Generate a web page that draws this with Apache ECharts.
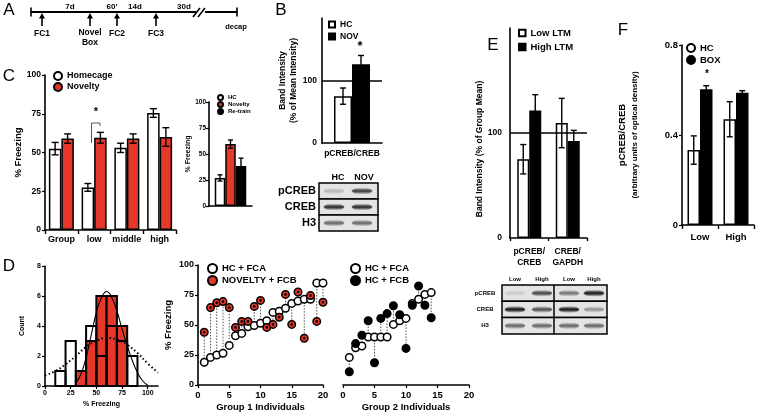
<!DOCTYPE html>
<html>
<head>
<meta charset="utf-8">
<title>pCREB / freezing figure</title>
<script src="https://cdn.jsdelivr.net/npm/echarts@6/dist/echarts.min.js"></script>
<style>body{margin:0;background:#fff}</style>
</head>
<body>
<div id="main" style="width:760px;height:413px;"></div>
<script>
// ---------- data ----------
// A: protocol timeline (schematic)
const timelineMarks = ['FC1', 'Novel\nBox', 'FC2', 'FC3'];
const timelineGaps = ['7d', "60'", '14d', '30d'];

// B: band intensity, HC vs NOV
const bCats = ['pCREB/CREB'];
const bHC = [75], bHCErr = [13];
const bNOV = [126], bNOVErr = [14];

// C: % freezing by group
const cCats = ['Group', 'low', 'middle', 'high'];
const cHome = [52.5, 27.5, 53, 75.5];
const cHomeErr = [4, 2.5, 3, 2.8];
const cNov = [59, 59.5, 59, 60];
const cNovErr = [3, 3.5, 3, 6];
// C inset
const ciHC = [27], ciHCErr = [3];
const ciNov = [59.5], ciNovErr = [4];
const ciRetrain = [38.5], ciRetrainErr = [7.5];

// D: histogram of % freezing
const binEdges = [10, 20, 30, 40, 50, 60, 70, 80, 90];
const histHC = [1, 3, 0, 4, 2, 4, 3, 2];
const histNov = [0, 0, 1, 3, 6, 6, 4, 0];
const fitHC = [[0, 0.7], [10, 1.0], [20, 1.45], [30, 2.0], [40, 2.6], [50, 3.0], [60, 3.2], [70, 3.1], [80, 2.75], [90, 2.2], [100, 1.5], [110, 0.9]];
const fitNov = [[30, 0.2], [35, 0.8], [40, 1.9], [45, 3.4], [50, 4.9], [55, 5.9], [60, 6.3], [65, 5.9], [70, 5.0], [75, 3.8], [80, 2.7], [85, 1.7], [90, 0.9], [95, 0.35], [100, 0.05]];

// D: individuals, group 1
const g1HC = [19, 23, 25, 26.5, 33, 41, 43, 48.5, 49.5, 51.5, 53.5, 60.5, 61.5, 64, 68, 70, 71.5, 71.5, 85, 85];
const g1Nov = [44, 64.5, 68.5, 69.5, 64.5, 48, 53, 53, 65.5, 70.5, 48, 50.5, 56.5, 75.5, 50.5, 77.5, 39, 74.5, 53, 69];
// D: individuals, group 2
const g2FCA = [23, 31, 32.5, 40, 40, 40, 40, 50.5, 53.5, 55.5, 68, 71.5, 75.5, 77];
const g2FCB = [11, 34.5, 41.5, 53.5, 18.5, 55.5, 59.5, 66, 58.5, 30.5, 66.5, 82.5, 66.5, 56];

// E: band intensity, low vs high LTM
const eCats = ['pCREB/\nCREB', 'CREB/\nGAPDH'];
const eLow = [75, 109.5], eLowErr = [14, 23.5];
const eHigh = [121.5, 92.5], eHighErr = [15, 10];

// F: pCREB/CREB optical density
const fCats = ['Low', 'High'];
const fHC = [0.333, 0.47], fHCErr = [0.063, 0.078];
const fBOX = [0.603, 0.588], fBOXErr = [0.016, 0.009];

// western blot band darkness (0..1), rows x lanes
const blotBRows = ['pCREB', 'CREB', 'H3'];
const blotBLanes = ['HC', 'NOV'];
const blotBDark = [[0.2, 0.75], [0.85, 0.85], [0.55, 0.55]];
const blotELanes = ['Low', 'High', 'Low', 'High'];
const blotEDark = [[0.12, 0.7, 0.5, 0.95], [0.95, 0.65, 0.95, 0.35], [0.55, 0.55, 0.55, 0.55]];

// ---------- helpers ----------
const FONT = '"Liberation Sans", Arial, Helvetica, sans-serif';
const RED = '#e5382a';
const txt = (size) => ({ color: '#000', fontFamily: FONT, fontWeight: 'bold', fontSize: size });

function valAxis(gi, min, max, interval, size, extra) {
    return Object.assign({
        type: 'value', gridIndex: gi, min: min, max: max, interval: interval,
        axisLine: { show: true, lineStyle: { color: '#000', width: 1.6 } },
        axisTick: { show: true, length: 3, lineStyle: { color: '#000', width: 1.2 } },
        axisLabel: Object.assign({ margin: 4 }, txt(size)),
        splitLine: { show: false }
    }, extra || {});
}
// category axis; label tweaks go in labelExtra so interval 0 is kept
function catAxis(gi, cats, size, labelExtra, ticks) {
    return {
        type: 'category', gridIndex: gi, data: cats,
        axisLine: { show: true, lineStyle: { color: '#000', width: 1.6 } },
        axisTick: ticks ? { show: true, interval: 0, length: ticks, lineStyle: { color: '#000', width: 1.4 } } : { show: false },
        axisLabel: Object.assign({ margin: 6, interval: 0, hideOverlap: false }, txt(size), labelExtra || {}),
        splitLine: { show: false }
    };
}
function bars(name, gi, vals, fill, width, extra) {
    return Object.assign({
        name: name, type: 'bar', xAxisIndex: gi, yAxisIndex: gi, data: vals,
        barWidth: width, barGap: '0%',
        itemStyle: { color: fill, borderColor: '#000', borderWidth: 1.5 },
        z: 2
    }, extra || {});
}
function errorBars(gi, means, errs, offset, cap) {
    return {
        type: 'custom', xAxisIndex: gi, yAxisIndex: gi, z: 5, silent: true,
        data: means.map((m, i) => [i, m - errs[i], m + errs[i]]),
        encode: { x: 0, y: [1, 2] },
        renderItem: (params, api) => {
            const lo = api.coord([api.value(0), api.value(1)]);
            const hi = api.coord([api.value(0), api.value(2)]);
            const x = lo[0] + offset;
            const st = { stroke: '#000', lineWidth: 1.4 };
            return {
                type: 'group', children: [
                    { type: 'line', shape: { x1: x, y1: lo[1], x2: x, y2: hi[1] }, style: st },
                    { type: 'line', shape: { x1: x - cap, y1: lo[1], x2: x + cap, y2: lo[1] }, style: st },
                    { type: 'line', shape: { x1: x - cap, y1: hi[1], x2: x + cap, y2: hi[1] }, style: st }
                ]
            };
        }
    };
}
function refLine(v) {
    return {
        silent: true, symbol: 'none', label: { show: false },
        lineStyle: { color: '#000', width: 1.6, type: 'solid' },
        data: [{ yAxis: v }]
    };
}
function histSeries(counts, fill, z) {
    return {
        type: 'custom', xAxisIndex: 3, yAxisIndex: 3, z: z, silent: true,
        data: counts.map((c, i) => [binEdges[i], binEdges[i + 1], c]),
        encode: { x: [0, 1], y: 2 },
        renderItem: (params, api) => {
            if (!api.value(2)) return null;
            const a = api.coord([api.value(0), api.value(2)]);
            const b = api.coord([api.value(1), 0]);
            return {
                type: 'rect', shape: { x: a[0], y: a[1], width: b[0] - a[0], height: b[1] - a[1] },
                style: { fill: fill, stroke: '#000', lineWidth: 2 }
            };
        }
    };
}
function connectors(gi, a, b) {
    return {
        type: 'custom', xAxisIndex: gi, yAxisIndex: gi, z: 1, silent: true,
        data: a.map((v, i) => [i + 1, v, b[i]]),
        encode: { x: 0, y: [1, 2] },
        renderItem: (params, api) => {
            const s = api.coord([api.value(0), api.value(1)]);
            const e = api.coord([api.value(0), api.value(2)]);
            return {
                type: 'line', shape: { x1: s[0], y1: s[1], x2: e[0], y2: e[1] },
                style: { stroke: '#555', lineWidth: 1, lineDash: [1.5, 1.5] }
            };
        }
    };
}
const dotCircle = 'path://M0,-10A10,10,0,1,1,0,10A10,10,0,1,1,0,-10ZM0,-1.6A1.6,1.6,0,1,1,0,1.6A1.6,1.6,0,1,1,0,-1.6Z';
function dots(name, gi, vals, fill, symbol, z) {
    return {
        name: name, type: 'scatter', xAxisIndex: gi, yAxisIndex: gi, z: z,
        data: vals.map((v, i) => [i + 1, v]),
        symbol: symbol, symbolSize: 7.5,
        itemStyle: { color: fill, borderColor: '#000', borderWidth: 1.5, opacity: 1 }
    };
}

// ---------- graphic pieces ----------
function gText(text, x, y, size, opts) {
    const o = opts || {};
    return {
        type: 'text', x: x, y: y, rotation: o.rotation || 0, silent: true,
        style: {
            text: text, fill: '#000', fontFamily: FONT, fontSize: size,
            fontWeight: o.weight || 'bold',
            align: o.align || 'center', textAlign: o.align || 'center',
            verticalAlign: 'middle', textVerticalAlign: 'middle',
            lineHeight: o.lineHeight || size * 1.15
        }
    };
}
function gLine(x1, y1, x2, y2, w) {
    return { type: 'line', silent: true, shape: { x1: x1, y1: y1, x2: x2, y2: y2 }, style: { stroke: '#000', lineWidth: w || 1.5 } };
}
function band(cx, cy, w, h, a) {
    return {
        type: 'ellipse', silent: true, shape: { cx: cx, cy: cy, rx: w / 2, ry: h / 2 },
        style: {
            fill: {
                type: 'linear', x: 0, y: 0, x2: 0, y2: 1, colorStops: [
                    { offset: 0, color: 'rgba(20,20,20,0)' },
                    { offset: 0.5, color: 'rgba(20,20,20,' + a + ')' },
                    { offset: 1, color: 'rgba(20,20,20,0)' }]
            },
            shadowBlur: 3, shadowColor: 'rgba(0,0,0,' + (a * 0.5) + ')'
        }
    };
}
function blot(x0, x1, yTop, rowH, laneX, dark, bandW, bandH, dividers) {
    const out = [];
    dark.forEach((row, r) => {
        const y = yTop + r * rowH;
        out.push({ type: 'rect', silent: true, shape: { x: x0, y: y, width: x1 - x0, height: rowH }, style: { fill: '#e4e4e4', stroke: null } });
        row.forEach((d, l) => out.push(band(laneX[l], y + rowH / 2, bandW, bandH, d)));
        out.push({ type: 'rect', silent: true, shape: { x: x0, y: y, width: x1 - x0, height: rowH }, style: { fill: null, stroke: '#000', lineWidth: 1.5 } });
    });
    (dividers || []).forEach(dx => out.push(gLine(dx, yTop, dx, yTop + rowH * dark.length, 1.5)));
    return out;
}

const graphics = [];
// panel letters
[['A', 9, 10], ['B', 281, 10], ['C', 9, 76], ['D', 9, 266], ['E', 493, 45], ['F', 623, 30]].forEach(p =>
    graphics.push(gText(p[0], p[1], p[2], 17, { weight: 'normal' })));

// A: timeline
const tlY = 12;
const tlMarkX = [42, 90, 117, 156];
const tlGapX = [70, 112, 135, 184];
graphics.push(gLine(31, tlY, 196, tlY, 2), gLine(205, tlY, 237, tlY, 2));
graphics.push(gLine(31, tlY - 4.5, 31, tlY + 4.5, 1.6), gLine(237, tlY - 4.5, 237, tlY + 4.5, 1.6));
graphics.push(gLine(193, tlY + 5, 200, tlY - 4, 1.6), gLine(198, tlY + 5, 205, tlY - 4, 1.6));
timelineMarks.forEach((m, i) => {
    const x = tlMarkX[i];
    graphics.push(gLine(x, 26, x, 17, 1.6));
    graphics.push({ type: 'polygon', silent: true, shape: { points: [[x, 13], [x - 3, 18.5], [x + 3, 18.5]] }, style: { fill: '#000' } });
    graphics.push(gText(m, x, m.indexOf('\n') >= 0 ? 38 : 33.5, 8.5, { lineHeight: 10 }));
});
timelineGaps.forEach((g, i) => graphics.push(gText(g, tlGapX[i], 6.5, 8)));
graphics.push(gText('decap', 236, 26.5, 7.5));

// asterisks and bracket
graphics.push(gText('*', 360, 46, 13), gText('*', 96, 112, 11), gText('*', 707, 74, 10));
graphics.push({ type: 'polyline', silent: true, shape: { points: [[91.5, 143], [91.5, 123], [100, 123], [100, 126]] }, style: { stroke: '#555', lineWidth: 1, fill: null } });

// B: blot
graphics.push(...blot(319, 378, 183, 16, [334, 362], blotBDark, 20, 7, []));
blotBLanes.forEach((l, i) => graphics.push(gText(l, [338, 364][i], 178, 9)));
blotBRows.forEach((r, i) => graphics.push(gText(r, 316, 191 + i * 16, 11, { align: 'right' })));

// E: blot
graphics.push(...blot(502, 607, 285, 16.3, [515, 542, 569, 594], blotEDark, 20, 7, [554]));
blotELanes.forEach((l, i) => graphics.push(gText(l, [515, 542, 569, 594][i], 279, 6)));
blotBRows.forEach((r, i) => graphics.push(gText(r, 485, 293 + i * 16.3, 6)));

// ---------- chart ----------
let myChart = echarts.init(document.getElementById('main'), null, { renderer: 'canvas' });

const legendBase = {
    orient: 'vertical', itemGap: 3, selectedMode: false, padding: 0,
    textStyle: txt(9)
};

let option = {
    animation: false,
    backgroundColor: '#fff',
    grid: [
        { left: 322, top: 18, width: 60, height: 125 },   // 0 B
        { left: 45, top: 75, width: 131, height: 155 },   // 1 C
        { left: 209, top: 102, width: 43, height: 104 },  // 2 C inset
        { left: 45, top: 266, width: 113, height: 120 },  // 3 D hist
        { left: 198, top: 265, width: 125, height: 120 }, // 4 D group 1
        { left: 343, top: 265, width: 126, height: 120 }, // 5 D group 2
        { left: 510, top: 28, width: 77, height: 210 },   // 6 E
        { left: 682, top: 45, width: 72, height: 180 }    // 7 F
    ].map(g => Object.assign({ outerBoundsMode: 'none', containLabel: false }, g)),
    xAxis: [
        catAxis(0, bCats, 8.5, { margin: 6 }),
        catAxis(1, cCats, 9, { margin: 5 }, 4),
        catAxis(2, [''], 7, { show: false }),
        valAxis(3, 0, 110, 25, 7, {
            axisLabel: Object.assign({ margin: 4, showMaxLabel: false, formatter: v => (v > 100 ? '' : v) }, txt(7)),
            name: '% Freezing', nameLocation: 'middle', nameGap: 15, nameTextStyle: txt(7)
        }),
        valAxis(4, 0, 20, 5, 9.5, { name: 'Group 1 Individuals', nameLocation: 'middle', nameGap: 17, nameTextStyle: txt(9.5), axisLabel: Object.assign({ margin: 5 }, txt(9.5)) }),
        valAxis(5, 0, 20, 5, 9.5, { name: 'Group 2 Individuals', nameLocation: 'middle', nameGap: 17, nameTextStyle: txt(9.5), axisLabel: Object.assign({ margin: 5 }, txt(9.5)) }),
        catAxis(6, eCats, 8.5, { margin: 8, lineHeight: 11 }, 3),
        catAxis(7, fCats, 9.5, { margin: 7 }, 4)
    ],
    yAxis: [
        valAxis(0, 0, 200, 100, 8.5, {
            axisTick: { show: false },
            axisLabel: Object.assign({ margin: 5, formatter: v => (v > 100 ? '' : v) }, txt(8.5)),
            name: 'Band Intensity\n(% of Mean Intensity)', nameLocation: 'middle', nameGap: 22,
            nameTextStyle: Object.assign({ lineHeight: 11 }, txt(8.5))
        }),
        valAxis(1, 0, 100, 25, 8.5, { name: '% Freezing', nameLocation: 'middle', nameGap: 22, nameTextStyle: txt(9.5) }),
        valAxis(2, 0, 100, 25, 6.5, { axisLabel: Object.assign({ margin: 3 }, txt(6.5)), name: '% Freezing', nameLocation: 'middle', nameGap: 15, nameTextStyle: txt(7) }),
        valAxis(3, 0, 8, 2, 7, { name: 'Count', nameLocation: 'middle', nameGap: 19, nameTextStyle: txt(7) }),
        valAxis(4, 0, 100, 25, 9, { name: '% Freezing', nameLocation: 'middle', nameGap: 25, nameTextStyle: txt(9.5) }),
        { type: 'value', gridIndex: 5, min: 0, max: 100, show: false },
        valAxis(6, 0, 200, 100, 8.5, {
            axisTick: { show: false },
            axisLabel: Object.assign({ margin: 8, formatter: v => (v > 100 ? '' : v) }, txt(8.5)),
            name: 'Band Intensity (% of Group Mean)', nameLocation: 'middle', nameGap: 19,
            nameTextStyle: Object.assign({ padding: [0, 32, 0, 0] }, txt(8.5))
        }),
        valAxis(7, 0, 0.8, 0.4, 9.5, {
            axisTick: { show: true, length: 3, lineStyle: { color: '#000', width: 1.2 } },
            name: '{a|pCREB/CREB}\n{b|(arbitrary units of optical density)}', nameLocation: 'middle', nameGap: 42,
            nameTextStyle: Object.assign({ rich: { a: Object.assign({ lineHeight: 13 }, txt(9.5)), b: Object.assign({ lineHeight: 11 }, txt(8)) } }, txt(9))
        })
    ],
    legend: [
        Object.assign({}, legendBase, { left: 328, top: 20, icon: 'rect', itemWidth: 6, itemHeight: 6, itemGap: 3, data: ['HC', 'NOV'], textStyle: txt(8.5) }),
        Object.assign({}, legendBase, { left: 53, top: 71, icon: 'circle', itemWidth: 8, itemHeight: 8, itemGap: 1, data: ['Homecage', 'Novelty'] }),
        Object.assign({}, legendBase, { left: 217, top: 94, icon: 'circle', itemWidth: 5, itemHeight: 5, itemGap: 0, data: ['HC', 'Novelty', 'Re-train'], textStyle: txt(6) }),
        Object.assign({}, legendBase, { left: 207, top: 263, icon: 'circle', itemWidth: 9, itemHeight: 9, itemGap: 1, data: ['HC + FCA', 'NOVELTY + FCB'], textStyle: txt(9.5) }),
        Object.assign({}, legendBase, { left: 350, top: 263, icon: 'circle', itemWidth: 9, itemHeight: 9, itemGap: 1, data: ['HC + FCA', 'HC + FCB'], textStyle: txt(9.5) }),
        Object.assign({}, legendBase, { left: 518, top: 28, icon: 'rect', itemWidth: 6.5, itemHeight: 6.5, itemGap: 4, data: ['Low LTM', 'High LTM'], textStyle: txt(9.5) }),
        Object.assign({}, legendBase, { left: 686, top: 43, icon: 'circle', itemWidth: 8, itemHeight: 8, itemGap: 2, data: ['HC', 'BOX'], textStyle: txt(9.5) })
    ],
    series: [
        // B
        bars('HC', 0, bHC, '#fff', 18, { markLine: refLine(100) }),
        bars('NOV', 0, bNOV, '#000', 18),
        errorBars(0, bHC, bHCErr, -9, 3),
        errorBars(0, bNOV, bNOVErr, 9, 3),
        // C
        bars('Homecage', 1, cHome, '#fff', 12.5),
        bars('Novelty', 1, cNov, RED, 12.5),
        errorBars(1, cHome, cHomeErr, -6.25, 3.5),
        errorBars(1, cNov, cNovErr, 6.25, 3.5),
        // C inset
        bars('HC', 2, ciHC, '#fff', 10.5),
        bars('Novelty', 2, ciNov, RED, 10.5),
        bars('Re-train', 2, ciRetrain, '#000', 10.5),
        errorBars(2, ciHC, ciHCErr, -10.5, 2.5),
        errorBars(2, ciNov, ciNovErr, 0, 2.5),
        errorBars(2, ciRetrain, ciRetrainErr, 10.5, 2.5),
        // D histogram
        histSeries(histNov, RED, 2),
        histSeries(histHC, 'rgba(255,255,255,0)', 3),
        { type: 'line', xAxisIndex: 3, yAxisIndex: 3, data: fitNov, smooth: true, showSymbol: false, z: 4, silent: true, lineStyle: { color: '#000', width: 1.1 } },
        { type: 'line', xAxisIndex: 3, yAxisIndex: 3, data: fitHC, smooth: true, showSymbol: false, z: 4, silent: true, clip: false, lineStyle: { color: '#000', width: 2, type: [1.5, 2.5] } },
        // D group 1
        connectors(4, g1HC, g1Nov),
        dots('HC + FCA', 4, g1HC, '#fff', 'circle', 3),
        dots('NOVELTY + FCB', 4, g1Nov, RED, dotCircle, 4),
        // D group 2
        connectors(5, g2FCA, g2FCB),
        dots('HC + FCA', 5, g2FCA, '#fff', 'circle', 3),
        dots('HC + FCB', 5, g2FCB, '#000', 'circle', 4),
        // E
        bars('Low LTM', 6, eLow, '#fff', 12, { markLine: refLine(100) }),
        bars('High LTM', 6, eHigh, '#000', 12),
        errorBars(6, eLow, eLowErr, -6, 3),
        errorBars(6, eHigh, eHighErr, 6, 3),
        // F
        bars('HC', 7, fHC, '#fff', 12.5),
        bars('BOX', 7, fBOX, '#000', 12.5),
        errorBars(7, fHC, fHCErr, -6.25, 3),
        errorBars(7, fBOX, fBOXErr, 6.25, 3)
    ],
    graphic: graphics
};

myChart.setOption(option);
</script>
</body>
</html>
